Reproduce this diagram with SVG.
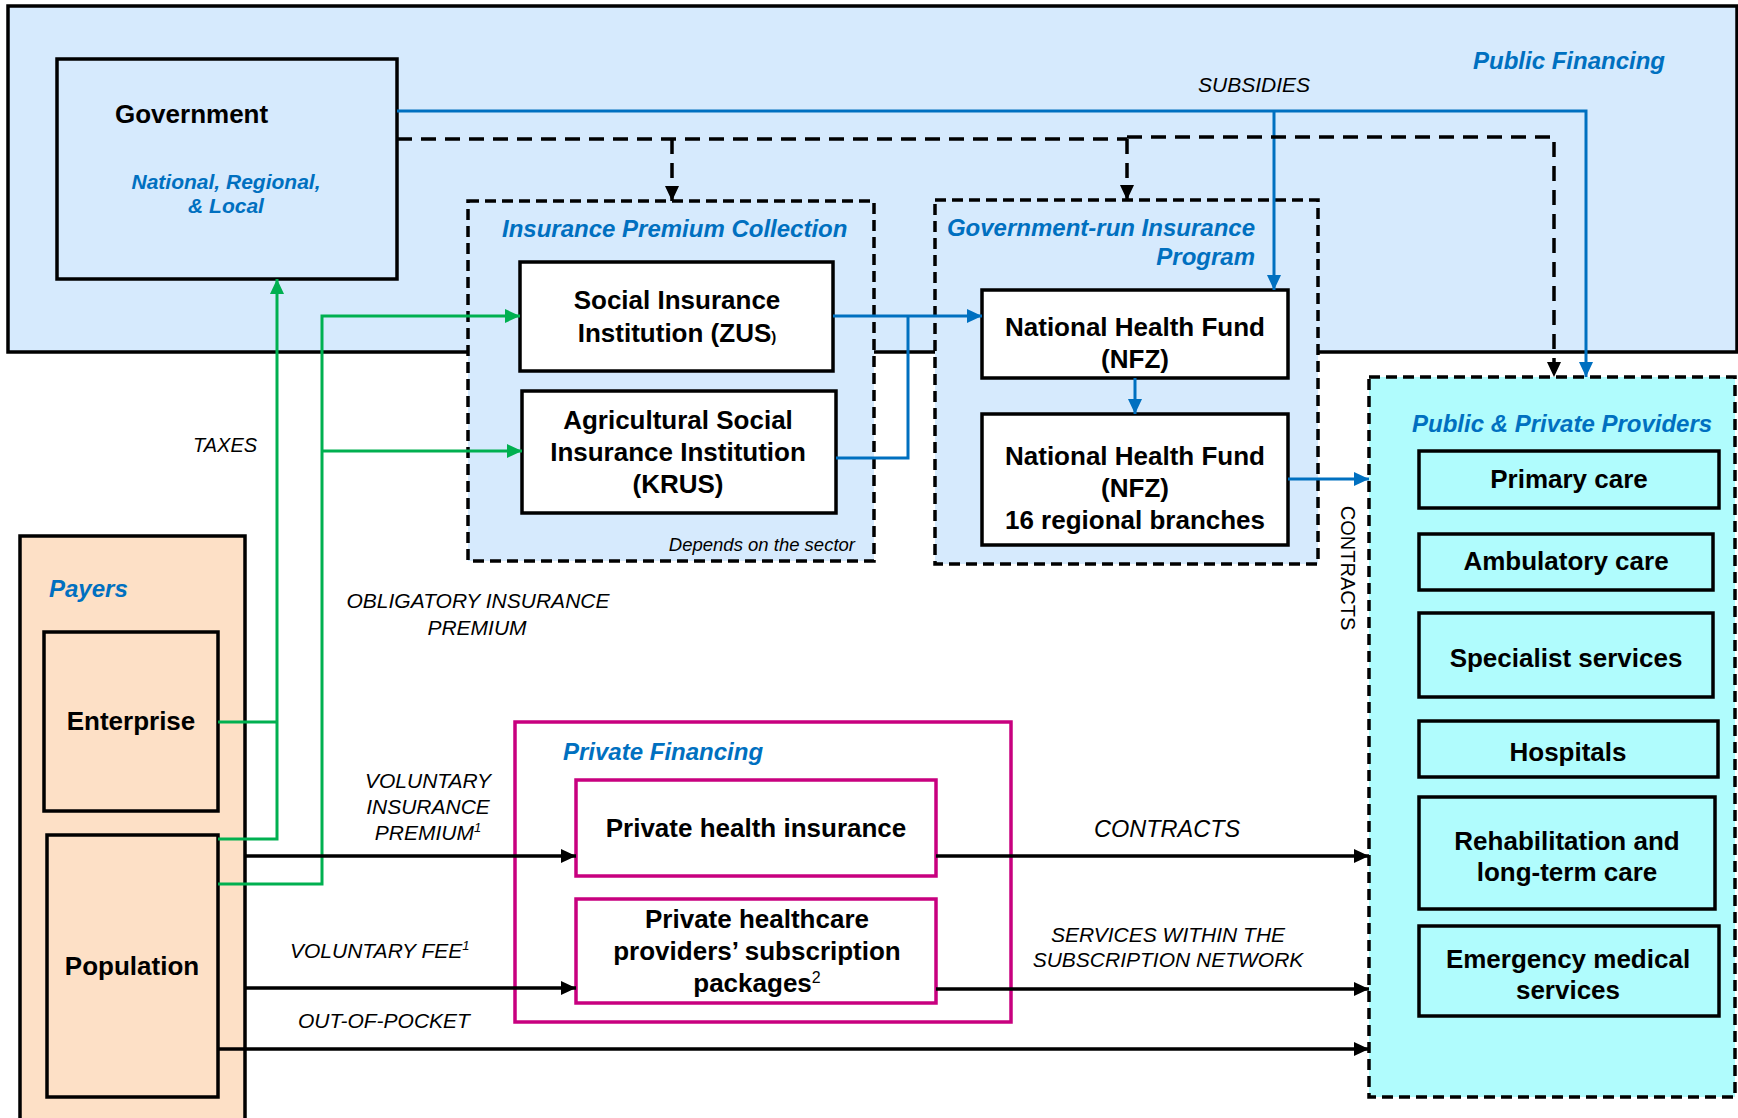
<svg xmlns="http://www.w3.org/2000/svg" width="1738" height="1118" viewBox="0 0 1738 1118">
<style>
  text { font-family: "Liberation Sans", Arial, sans-serif; fill: #000; }
  .b { font-weight: bold; font-size: 26px; }
  .t { font-weight: bold; font-style: italic; font-size: 24px; fill: #0070c0; }
  .lbl { font-style: italic; font-size: 21px; }
  .box { stroke: #000; stroke-width: 3.5; }
  .lb { fill: #d6eafd; }
  .dbox { stroke: #000; stroke-width: 3.5; stroke-dasharray: 11 6; }
  .mg { stroke: #c8007f; stroke-width: 3.5; }
  .blue { fill: none; stroke: #0070c0; stroke-width: 3; }
  .green { fill: none; stroke: #00b050; stroke-width: 3; }
  .blk { fill: none; stroke: #000; stroke-width: 3.5; }
  .dash { fill: none; stroke: #000; stroke-width: 3.5; stroke-dasharray: 15 9; }
</style>
<defs>
  <marker id="ab" markerUnits="userSpaceOnUse" markerWidth="15" markerHeight="14" refX="15" refY="7" orient="auto"><path d="M0,0 L15,7 L0,14 z" fill="#0070c0"/></marker>
  <marker id="ag" markerUnits="userSpaceOnUse" markerWidth="15" markerHeight="14" refX="15" refY="7" orient="auto"><path d="M0,0 L15,7 L0,14 z" fill="#00b050"/></marker>
  <marker id="ak" markerUnits="userSpaceOnUse" markerWidth="15" markerHeight="14" refX="15" refY="7" orient="auto"><path d="M0,0 L15,7 L0,14 z" fill="#000"/></marker>
</defs>
<rect x="0" y="0" width="1738" height="1118" fill="#fff"/>

<g id="public-financing">
  <rect x="8" y="6" width="1729" height="346" class="box lb"/>
  <text x="1473" y="69" class="t">Public Financing</text>
  <text x="1198" y="92" class="lbl">SUBSIDIES</text>
</g>

<g id="government">
  <rect x="57" y="59" width="340" height="220" class="box lb"/>
  <text x="115" y="123" class="b">Government</text>
  <text x="226" y="189" class="t" style="font-size:21px" text-anchor="middle">National, Regional,</text>
  <text x="226" y="213" class="t" style="font-size:21px" text-anchor="middle">&amp; Local</text>
</g>

<g id="insurance-premium-collection">
  <rect x="468" y="201" width="406" height="360" class="dbox lb"/>
  <text x="502" y="237" class="t">Insurance Premium Collection</text>
  <text x="855" y="551" style="font-style:italic;font-size:18.5px" text-anchor="end">Depends on the sector</text>
</g>

<g id="zus">
  <rect x="520" y="262" width="313" height="109" class="box" fill="#fff"/>
  <text x="677" y="309" class="b" text-anchor="middle">Social Insurance</text>
  <text x="677" y="342" class="b" text-anchor="middle">Institution (ZUS<tspan style="font-size:15px">)</tspan></text>
</g>

<g id="krus">
  <rect x="522" y="391" width="314" height="122" class="box" fill="#fff"/>
  <text x="678" y="429" class="b" text-anchor="middle">Agricultural Social</text>
  <text x="678" y="461" class="b" text-anchor="middle">Insurance Institution</text>
  <text x="678" y="493" class="b" text-anchor="middle">(KRUS)</text>
</g>

<g id="government-run-insurance">
  <rect x="935" y="200" width="383" height="364" class="dbox lb"/>
  <text x="1255" y="236" class="t" text-anchor="end">Government-run Insurance</text>
  <text x="1255" y="265" class="t" text-anchor="end">Program</text>
</g>

<g id="nfz">
  <rect x="982" y="290" width="306" height="88" class="box" fill="#fff"/>
  <text x="1135" y="336" class="b" text-anchor="middle">National Health Fund</text>
  <text x="1135" y="368" class="b" text-anchor="middle">(NFZ)</text>
</g>

<g id="nfz-regional">
  <rect x="982" y="414" width="306" height="131" class="box" fill="#fff"/>
  <text x="1135" y="465" class="b" text-anchor="middle">National Health Fund</text>
  <text x="1135" y="497" class="b" text-anchor="middle">(NFZ)</text>
  <text x="1135" y="529" class="b" text-anchor="middle">16 regional branches</text>
</g>

<g id="providers">
  <rect x="1369" y="377" width="366" height="720" class="dbox" fill="#b0fcfd"/>
  <text x="1412" y="432" class="t">Public &amp; Private Providers</text>
</g>
<g id="primary-care">
  <rect x="1419" y="451" width="300" height="57" class="box" fill="#b0fcfd"/>
  <text x="1569" y="488" class="b" text-anchor="middle">Primary care</text>
</g>
<g id="ambulatory-care">
  <rect x="1419" y="534" width="294" height="56" class="box" fill="#b0fcfd"/>
  <text x="1566" y="570" class="b" text-anchor="middle">Ambulatory care</text>
</g>
<g id="specialist-services">
  <rect x="1419" y="613" width="294" height="84" class="box" fill="#b0fcfd"/>
  <text x="1566" y="667" class="b" text-anchor="middle">Specialist services</text>
</g>
<g id="hospitals">
  <rect x="1419" y="721" width="299" height="56" class="box" fill="#b0fcfd"/>
  <text x="1568" y="761" class="b" text-anchor="middle">Hospitals</text>
</g>
<g id="rehabilitation">
  <rect x="1419" y="797" width="296" height="112" class="box" fill="#b0fcfd"/>
  <text x="1567" y="850" class="b" text-anchor="middle">Rehabilitation and</text>
  <text x="1567" y="881" class="b" text-anchor="middle">long-term care</text>
</g>
<g id="emergency">
  <rect x="1419" y="926" width="300" height="90" class="box" fill="#b0fcfd"/>
  <text x="1568" y="968" class="b" text-anchor="middle">Emergency medical</text>
  <text x="1568" y="999" class="b" text-anchor="middle">services</text>
</g>

<g id="payers">
  <rect x="20" y="536" width="225" height="600" class="box" fill="#fde0c6"/>
  <text x="49" y="597" class="t">Payers</text>
</g>
<g id="enterprise">
  <rect x="44" y="632" width="174" height="179" class="box" fill="#fde0c6"/>
  <text x="131" y="730" class="b" text-anchor="middle">Enterprise</text>
</g>
<g id="population">
  <rect x="47" y="835" width="171" height="262" class="box" fill="#fde0c6"/>
  <text x="132" y="975" class="b" text-anchor="middle">Population</text>
</g>

<g id="private-financing">
  <rect x="515" y="722" width="496" height="300" class="mg" fill="none"/>
  <text x="563" y="760" class="t">Private Financing</text>
</g>
<g id="private-health-insurance">
  <rect x="576" y="780" width="360" height="96" class="mg" fill="#fff"/>
  <text x="756" y="837" class="b" text-anchor="middle">Private health insurance</text>
</g>
<g id="private-subscription">
  <rect x="576" y="899" width="360" height="104" class="mg" fill="#fff"/>
  <text x="757" y="928" class="b" text-anchor="middle">Private healthcare</text>
  <text x="757" y="960" class="b" text-anchor="middle">providers’ subscription</text>
  <text x="757" y="992" class="b" text-anchor="middle">packages<tspan style="font-weight:normal;font-size:16px" dy="-9">2</tspan></text>
</g>

<g id="connectors">
  <path d="M397,111 H1586 V377" class="blue" marker-end="url(#ab)"/>
  <path d="M1274,111 V290" class="blue" marker-end="url(#ab)"/>
  <path d="M833,316 H982" class="blue" marker-end="url(#ab)"/>
  <path d="M836,458 H908 V316" class="blue"/>
  <path d="M1135,378 V414" class="blue" marker-end="url(#ab)"/>
  <path d="M1288,479 H1369" class="blue" marker-end="url(#ab)"/>

  <path d="M397,139 H1127 M1127,137 H1554 V377" class="dash" marker-end="url(#ak)"/>
  <path d="M672,139 V201" class="dash" marker-end="url(#ak)"/>
  <path d="M1127,139 V200" class="dash" marker-end="url(#ak)"/>

  <path d="M218,722 H277" class="green"/>
  <path d="M218,839 H277 V279" class="green" marker-end="url(#ag)"/>
  <path d="M218,884 H322 V316 H520" class="green" marker-end="url(#ag)"/>
  <path d="M322,451 H522" class="green" marker-end="url(#ag)"/>

  <path d="M245,856 H576" class="blk" marker-end="url(#ak)"/>
  <path d="M936,856 H1369" class="blk" marker-end="url(#ak)"/>
  <path d="M245,988 H576" class="blk" marker-end="url(#ak)"/>
  <path d="M936,989 H1369" class="blk" marker-end="url(#ak)"/>
  <path d="M218,1049 H1369" class="blk" marker-end="url(#ak)"/>

  <text x="193" y="452" class="lbl" style="font-size:20px">TAXES</text>
  <text x="478" y="608" class="lbl" text-anchor="middle">OBLIGATORY INSURANCE</text>
  <text x="477" y="635" class="lbl" text-anchor="middle">PREMIUM</text>
  <text x="428" y="788" class="lbl" text-anchor="middle">VOLUNTARY</text>
  <text x="428" y="814" class="lbl" text-anchor="middle">INSURANCE</text>
  <text x="428" y="840" class="lbl" text-anchor="middle">PREMIUM<tspan style="font-size:13px" dy="-8">1</tspan></text>
  <text x="290" y="958" class="lbl">VOLUNTARY FEE<tspan style="font-size:13px" dy="-8">1</tspan></text>
  <text x="298" y="1028" class="lbl">OUT-OF-POCKET</text>
  <text x="1094" y="837" class="lbl" style="font-size:23.5px">CONTRACTS</text>
  <text x="1168" y="942" class="lbl" text-anchor="middle">SERVICES WITHIN THE</text>
  <text x="1168" y="967" class="lbl" text-anchor="middle">SUBSCRIPTION NETWORK</text>
  <text transform="translate(1348,568) rotate(90)" x="0" y="7" style="font-size:20px" text-anchor="middle">CONTRACTS</text>
</g>
</svg>
